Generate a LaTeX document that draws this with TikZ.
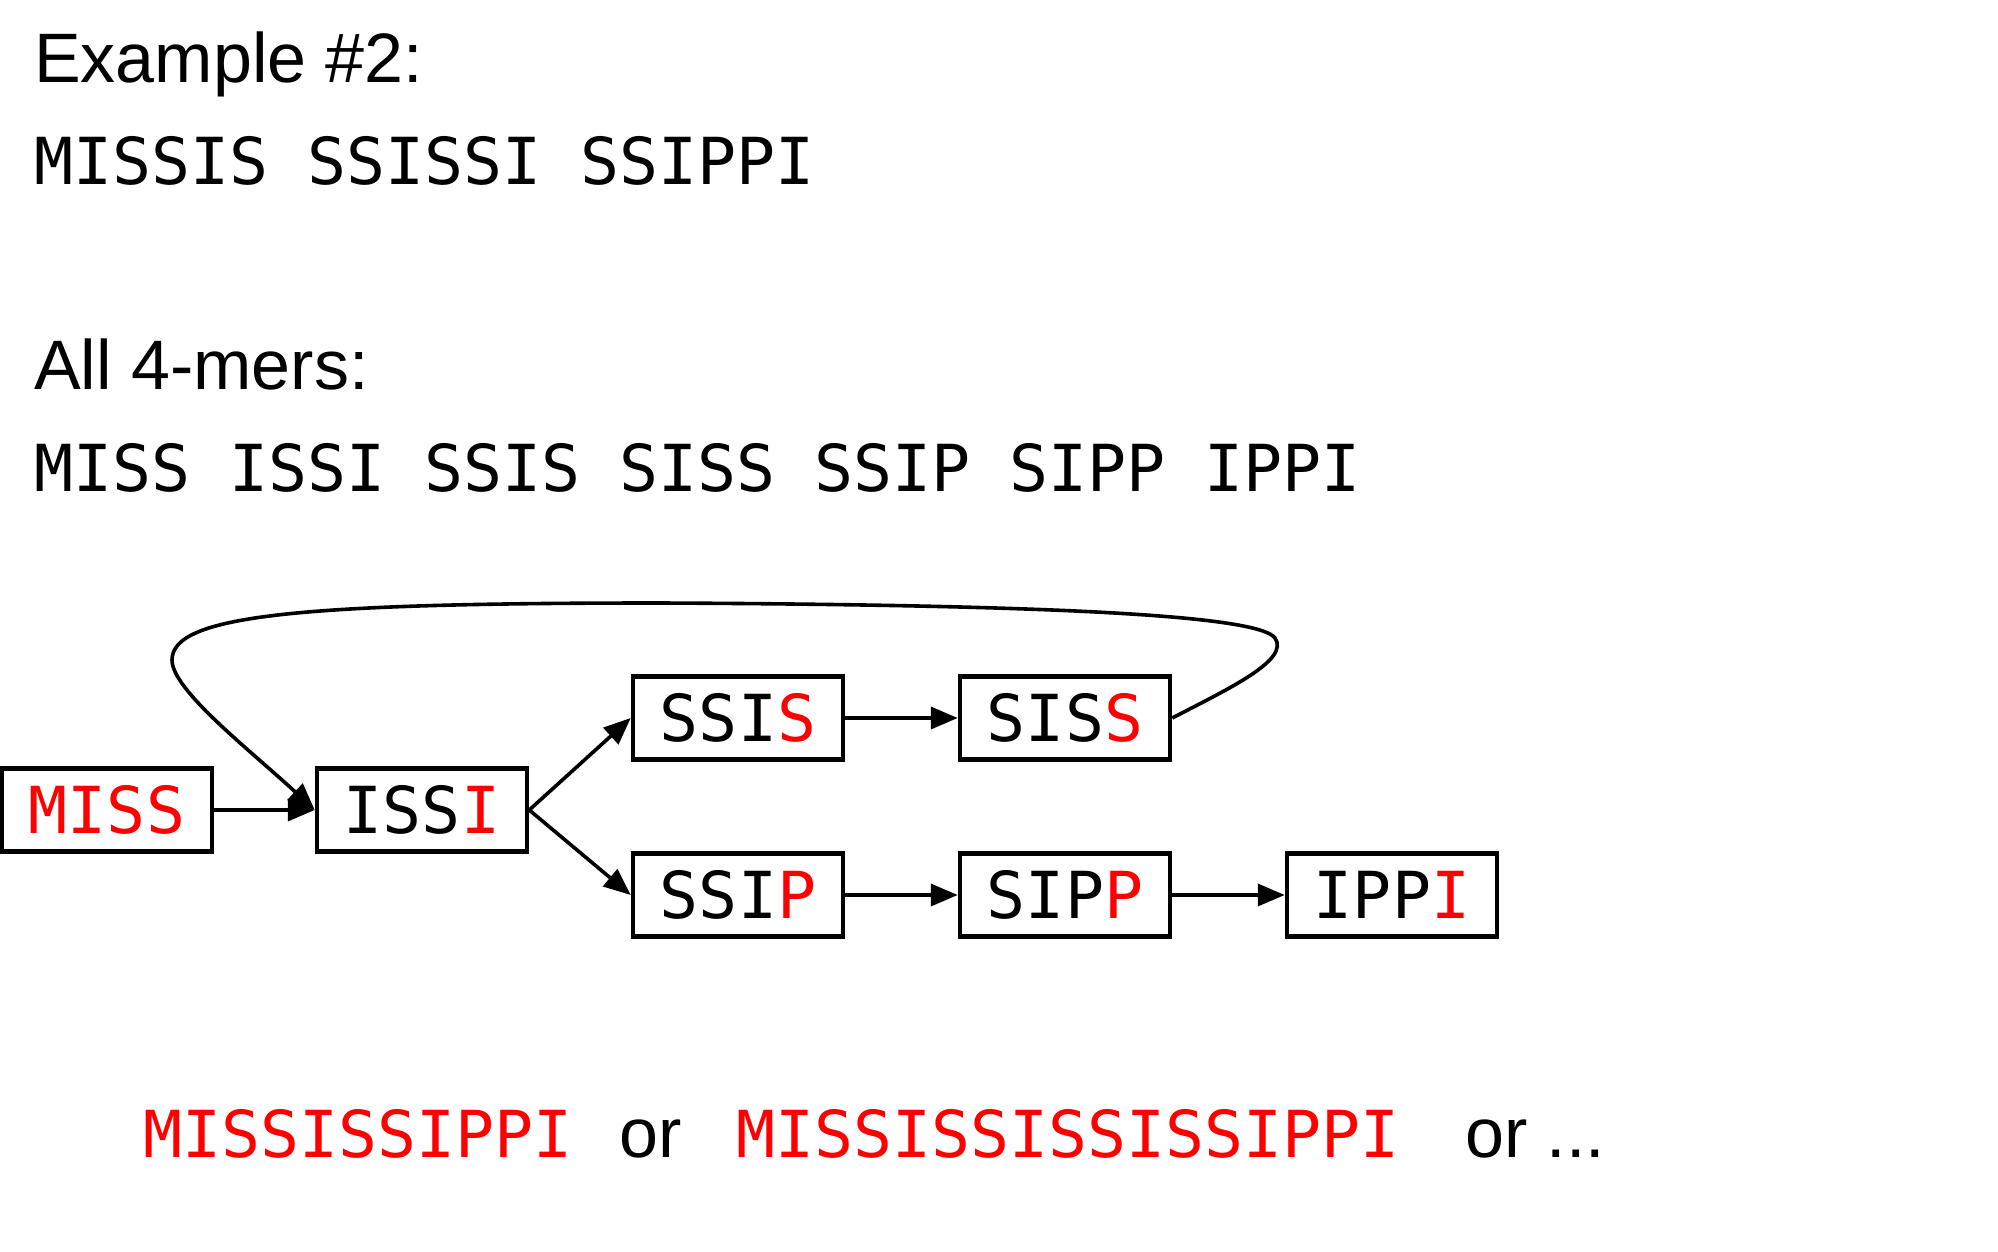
\documentclass[tikz,border=0pt]{standalone}
\usepackage{fontspec}
\setmainfont{Liberation Sans}
\setmonofont{DejaVu Sans Mono}
\usetikzlibrary{arrows.meta}

\newcommand\kmerfont{\fontsize{64.8}{78}\selectfont\ttfamily}
\newcommand\labfont{\fontsize{70}{84}\selectfont\rmfamily}

\tikzset{
  kmer/.style={draw,line width=4.5pt,minimum width=210pt,minimum height=83pt,
    inner sep=0pt,font=\kmerfont},
  link/.style={line width=3.6pt,-{Triangle[length=27pt,width=22pt]}},
  txt/.style={anchor=base west,inner sep=0pt},
}

\begin{document}
\begin{tikzpicture}[x=1pt,y=-1pt]
  \useasboundingbox (0,0) rectangle (1998,1252);

  % Reads and the k-mers cut from them.
  \node[txt,font=\labfont] (title) at (34,83) {Example \#2:};
  \node[txt,font=\kmerfont] (reads) at (34,185) {MISSIS SSISSI SSIPPI};
  \node[txt,font=\labfont] (kmerhead) at (34,389) {All 4-mers:};
  \node[txt,font=\kmerfont] (kmers) at (34,491) {MISS ISSI SSIS SISS SSIP SIPP IPPI};

  % One box per 4-mer, last letter in red.
  \foreach \name/\x/\y/\stem/\last in {
      miss/107/810//MISS, issi/422/810/ISS/I,
      ssis/738/718/SSI/S, siss/1065/718/SIS/S,
      ssip/738/895/SSI/P, sipp/1065/895/SIP/P,
      ippi/1392/895/IPP/I} {
    \node[kmer] (\name) at (\x,\y) {\stem\textcolor{red}{\last}};
  }

  \foreach \a/\b in {miss/issi, issi/ssis, issi/ssip,
      ssis/siss, ssip/sipp, sipp/ippi}
    \draw[link] (\a.east) -- (\b.west);

  % Back edge SISS -> ISSI over the top.
  \draw[link] (siss.east) .. controls (1230,688) and (1290,660) .. (1275,638)
    .. controls (1260,618) and (1100,605) .. (660,603)
    .. controls (300,603) and (172,615) .. (172,660)
    .. controls (172,690) and (250,750) .. (issi.west);

  % Possible reconstructions.
  \node[txt,font=\kmerfont,text=red] (short) at (143,1157) {MISSISSIPPI};
  \node[txt,font=\labfont] (or1) at (619,1157) {or};
  \node[txt,font=\kmerfont,text=red] (long) at (736,1157) {MISSISSISSISSIPPI};
  \node[txt,font=\labfont] (or2) at (1465,1157) {or ...};
\end{tikzpicture}
\end{document}
